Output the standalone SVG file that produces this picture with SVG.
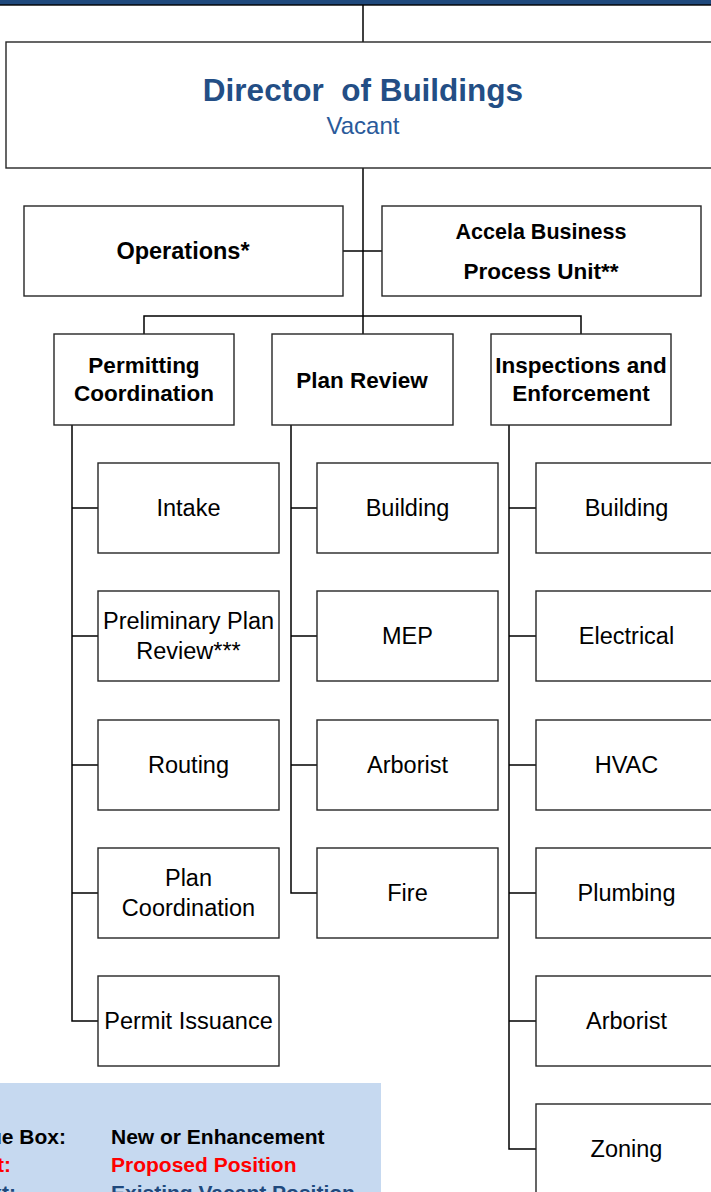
<svg xmlns="http://www.w3.org/2000/svg" width="711" height="1192" viewBox="0 0 711 1192">
  <style>
    .box { fill: #ffffff; stroke: #262626; stroke-width: 1.4; }
    .wire { fill: none; stroke: #000000; stroke-width: 1.5; }
    .t { font-family: "Liberation Sans", Arial, sans-serif; text-anchor: middle; fill: #000000; }
    .b { font-weight: bold; }
    .head { font-size: 22.5px; }
    .unit { font-size: 23.5px; }
    .leg { font-family: "Liberation Sans", Arial, sans-serif; font-weight: bold; font-size: 21px; }
  </style>

  <!-- top band (parent office) -->
  <rect x="-5" y="-10" width="725" height="15" fill="#1F497D" stroke="#000" stroke-width="1.4"/>

  <!-- connectors -->
  <g id="connectors" class="wire">
    <path d="M363 5 V42"/>
    <path d="M363 168 V334"/>
    <path d="M343 251 H382"/>
    <path d="M144 334 V316 H581 V334"/>
    <!-- Permitting Coordination spine -->
    <path d="M72 425 V1021 H98"/>
    <path d="M72 508 H98 M72 636 H98 M72 765 H98 M72 893 H98"/>
    <!-- Plan Review spine -->
    <path d="M291 425 V893 H317"/>
    <path d="M291 508 H317 M291 636 H317 M291 765 H317"/>
    <!-- Inspections and Enforcement spine -->
    <path d="M509 425 V1149 H536"/>
    <path d="M509 508 H536 M509 636 H536 M509 765 H536 M509 893 H536 M509 1021 H536"/>
  </g>

  <g id="director">
    <rect class="box" x="6" y="42" width="720" height="126"/>
    <text class="t b" x="363" y="101" font-size="31.5" style="fill:#234E85; white-space:pre" xml:space="preserve">Director  of Buildings</text>
    <text class="t" x="363" y="134" font-size="24" style="fill:#2A5A9A">Vacant</text>
  </g>

  <g id="operations">
    <rect class="box" x="24" y="206" width="319" height="90"/>
    <text class="t b" x="183" y="259" font-size="23.5">Operations*</text>
  </g>

  <g id="accela">
    <rect class="box" x="382" y="206" width="319" height="90"/>
    <text class="t b" x="541" y="239" font-size="21.5">Accela Business</text>
    <text class="t b" x="541" y="279" font-size="22.5">Process Unit**</text>
  </g>

  <g id="permitting">
    <rect class="box" x="54" y="334" width="180" height="91"/>
    <text class="t b head" x="144" y="373">Permitting</text>
    <text class="t b head" x="144" y="401">Coordination</text>
  </g>

  <g id="plan-review">
    <rect class="box" x="272" y="334" width="181" height="91"/>
    <text class="t b head" x="362" y="388">Plan Review</text>
  </g>

  <g id="inspections">
    <rect class="box" x="491" y="334" width="180" height="91"/>
    <text class="t b head" x="581" y="373">Inspections and</text>
    <text class="t b head" x="581" y="401">Enforcement</text>
  </g>

  <!-- Permitting Coordination units -->
  <g id="pc-intake">
    <rect class="box" x="98" y="463" width="181" height="90"/>
    <text class="t unit" x="188.5" y="516">Intake</text>
  </g>
  <g id="pc-preliminary">
    <rect class="box" x="98" y="591" width="181" height="90"/>
    <text class="t unit" x="188.5" y="629">Preliminary Plan</text>
    <text class="t unit" x="188.5" y="659">Review***</text>
  </g>
  <g id="pc-routing">
    <rect class="box" x="98" y="720" width="181" height="90"/>
    <text class="t unit" x="188.5" y="773">Routing</text>
  </g>
  <g id="pc-plan-coordination">
    <rect class="box" x="98" y="848" width="181" height="90"/>
    <text class="t unit" x="188.5" y="886">Plan</text>
    <text class="t unit" x="188.5" y="916">Coordination</text>
  </g>
  <g id="pc-permit-issuance">
    <rect class="box" x="98" y="976" width="181" height="90"/>
    <text class="t unit" x="188.5" y="1029">Permit Issuance</text>
  </g>

  <!-- Plan Review units -->
  <g id="pr-building">
    <rect class="box" x="317" y="463" width="181" height="90"/>
    <text class="t unit" x="407.5" y="516">Building</text>
  </g>
  <g id="pr-mep">
    <rect class="box" x="317" y="591" width="181" height="90"/>
    <text class="t unit" x="407.5" y="644">MEP</text>
  </g>
  <g id="pr-arborist">
    <rect class="box" x="317" y="720" width="181" height="90"/>
    <text class="t unit" x="407.5" y="773">Arborist</text>
  </g>
  <g id="pr-fire">
    <rect class="box" x="317" y="848" width="181" height="90"/>
    <text class="t unit" x="407.5" y="901">Fire</text>
  </g>

  <!-- Inspections and Enforcement units -->
  <g id="ie-building">
    <rect class="box" x="536" y="463" width="181" height="90"/>
    <text class="t unit" x="626.5" y="516">Building</text>
  </g>
  <g id="ie-electrical">
    <rect class="box" x="536" y="591" width="181" height="90"/>
    <text class="t unit" x="626.5" y="644">Electrical</text>
  </g>
  <g id="ie-hvac">
    <rect class="box" x="536" y="720" width="181" height="90"/>
    <text class="t unit" x="626.5" y="773">HVAC</text>
  </g>
  <g id="ie-plumbing">
    <rect class="box" x="536" y="848" width="181" height="90"/>
    <text class="t unit" x="626.5" y="901">Plumbing</text>
  </g>
  <g id="ie-arborist">
    <rect class="box" x="536" y="976" width="181" height="90"/>
    <text class="t unit" x="626.5" y="1029">Arborist</text>
  </g>
  <g id="ie-zoning">
    <rect class="box" x="536" y="1104" width="181" height="90"/>
    <text class="t unit" x="626.5" y="1157">Zoning</text>
  </g>

  <!-- legend (runs past the page edges) -->
  <g id="legend">
    <rect x="-2" y="1083" width="383" height="115" fill="#C6D9F0"/>
    <text class="leg" x="66" y="1144" text-anchor="end" fill="#000">Blue Box:</text>
    <text class="leg" x="111" y="1144" fill="#000">New or Enhancement</text>
    <text class="leg" x="11" y="1172" text-anchor="end" fill="#FF0000">Red Text:</text>
    <text class="leg" x="111" y="1172" fill="#FF0000">Proposed Position</text>
    <text class="leg" x="16" y="1200" text-anchor="end" fill="#1F497D">Blue Text:</text>
    <text class="leg" x="111" y="1200" fill="#1F497D">Existing Vacant Position</text>
  </g>
</svg>
